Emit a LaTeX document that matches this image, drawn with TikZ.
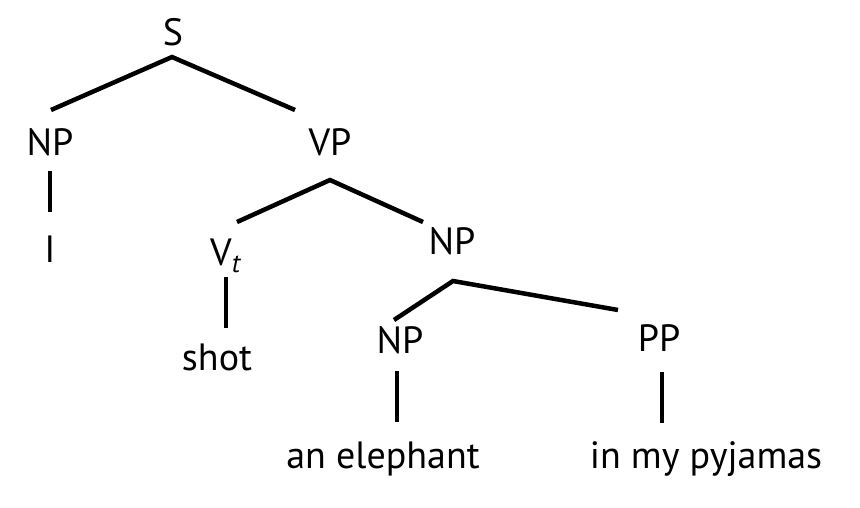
\documentclass[tikz,border=0pt]{standalone}
\usepackage{fontspec}
\setmainfont{PT Sans}
\begin{document}
\begin{tikzpicture}[x=1pt,y=-1pt,
  lab/.style={anchor=base,inner sep=0pt,font=\fontsize{38}{42}\selectfont},
  edge/.style={line width=4.5pt,line join=miter}]
\useasboundingbox (0,0) rectangle (860,507);
% labels
\node[lab] (S) at (173,45) {S};
\node[lab] (np1) at (50,155) {NP};
\node[lab] (vp) at (330,155) {VP};
\node[lab] (i) at (50,262) {I};
\node[lab,anchor=base west] (vt) at (210,265) {V\textsubscript{\itshape t}};
\node[lab] (shot) at (217,370) {shot};
\node[lab] (np2) at (452,254) {NP};
\node[lab] (np3) at (400,353) {NP};
\node[lab] (pp) at (659,351) {PP};
\node[lab] (ele) at (383,468) {an elephant};
\node[lab] (pyj) at (706,468) {in my pyjamas};
% branch points
\coordinate (sA) at (172,57);
\coordinate (sL) at (51,110);
\coordinate (sR) at (295,110);
\coordinate (n1T) at (50,171);
\coordinate (n1B) at (50,212);
\coordinate (vA) at (330,180);
\coordinate (vL) at (237,222);
\coordinate (vR) at (423,222);
\coordinate (vtT) at (226,277);
\coordinate (vtB) at (226,328);
\coordinate (n2A) at (453,281);
\coordinate (n2L) at (394,320);
\coordinate (n2R) at (618,310);
\coordinate (n3T) at (397,371);
\coordinate (n3B) at (397,422);
\coordinate (ppT) at (662,372);
\coordinate (ppB) at (662,423);
% connectors
\draw[edge] (sL) -- (sA) -- (sR);
\draw[edge] (n1T) -- (n1B);
\draw[edge] (vL) -- (vA) -- (vR);
\draw[edge] (vtT) -- (vtB);
\draw[edge] (n2L) -- (n2A) -- (n2R);
\draw[edge] (n3T) -- (n3B);
\draw[edge] (ppT) -- (ppB);
\end{tikzpicture}
\end{document}
